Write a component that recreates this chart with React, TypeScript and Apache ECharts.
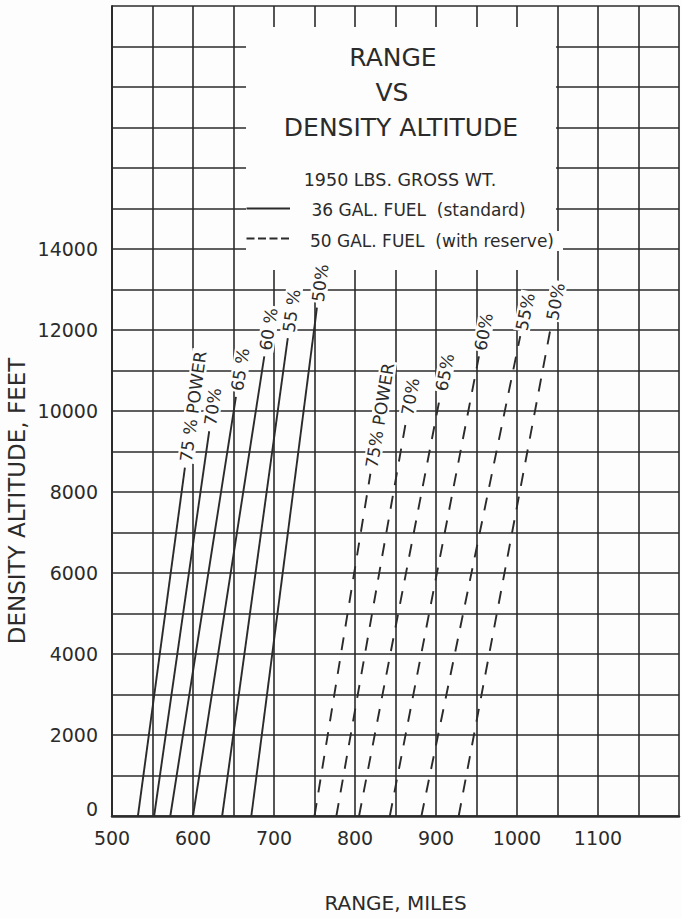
import React, { useEffect, useRef } from "react";
import * as echarts from "echarts";

// ---- data ----
const xTickLabels = [500, 600, 700, 800, 900, 1000, 1100];
const yTickLabels = [0, 2000, 4000, 6000, 8000, 10000, 12000, 14000];

// 36 gal. fuel (standard) - solid lines: range at sea level and at the top of each line
const powerLabelsStandard = ["75 % POWER", "70%", "65 %", "60 %", "55 %", "50%"];
const rangeAtSeaLevelStandard = [532, 552, 572, 600, 636, 672];
const rangeAtTopStandard = [590, 620, 653, 688, 717, 753];
const topAltitudeStandard = [8600, 9500, 10350, 11350, 11800, 12550];

// 50 gal. fuel (with reserve) - dashed lines
const powerLabelsReserve = ["75% POWER", "70%", "65%", "60%", "55%", "50%"];
const rangeAtSeaLevelReserve = [750, 777, 805, 843, 882, 928];
const rangeAtTopReserve = [819, 863, 905, 953, 1004, 1042];
const topAltitudeReserve = [8450, 9750, 10350, 11350, 11850, 12100];

const titleLines = ["RANGE", "VS", "DENSITY ALTITUDE"];
const weightNote = "1950 LBS. GROSS WT.";
const nameStandard = "36 GAL. FUEL  (standard)";
const nameReserve = "50 GAL. FUEL  (with reserve)";
const xAxisName = "RANGE, MILES";
const yAxisName = "DENSITY ALTITUDE, FEET";

const INK = "#2b2b2b";
const PAPER = "#fdfdfd";
const FONT = "DejaVu Sans";
const DASH = [13, 11];

export default function App() {
  const ref = useRef<HTMLDivElement>(null);

  useEffect(() => {
    const el = ref.current as HTMLDivElement;
    const chart = echarts.init(el, null, { renderer: "svg" });

    const makeSeries = (
      name: string,
      r0: number[],
      r1: number[],
      a1: number[],
      dashed: boolean
    ) =>
      r0.map((r, i) => ({
        type: "line",
        name,
        data: [
          [r, 0],
          [r1[i], a1[i]],
        ],
        symbol: "none",
        silent: true,
        z: 3,
        lineStyle: { color: INK, width: 1.9, type: dashed ? DASH : "solid", cap: "butt" },
      }));

    const option: any = {
      animation: false,
      backgroundColor: PAPER,
      grid: { left: 112, top: 6, width: 576, height: 811 },
      xAxis: {
        type: "value",
        min: 500,
        max: 1200,
        interval: 50,
        name: xAxisName,
        nameLocation: "middle",
        nameGap: 77,
        nameTextStyle: { fontFamily: FONT, fontSize: 20, color: INK },
        axisLine: { show: true, onZero: false, lineStyle: { color: INK, width: 2.5 } },
        axisTick: { show: false },
        axisLabel: {
          margin: 12,
          fontFamily: FONT,
          fontSize: 19,
          color: INK,
          formatter: (v: number) => (xTickLabels.includes(v) ? String(v) : ""),
        },
        splitLine: { show: true, lineStyle: { color: INK, width: 1.6 } },
      },
      yAxis: {
        type: "value",
        min: 0,
        max: 20000,
        interval: 1000,
        axisLine: { show: true, onZero: false, lineStyle: { color: INK, width: 2 } },
        axisTick: { show: false },
        axisLabel: {
          margin: 14,
          fontFamily: FONT,
          fontSize: 19,
          color: INK,
          formatter: (v: number) =>
            v === 0 ? "{z|0}" : yTickLabels.includes(v) ? String(v) : "",
          rich: {
            z: { padding: [0, 0, 14, 0], fontFamily: FONT, fontSize: 19, color: INK },
          },
        },
        splitLine: { show: true, lineStyle: { color: INK, width: 1.6 } },
      },
      series: [
        ...makeSeries(nameStandard, rangeAtSeaLevelStandard, rangeAtTopStandard, topAltitudeStandard, false),
        ...makeSeries(nameReserve, rangeAtSeaLevelReserve, rangeAtTopReserve, topAltitudeReserve, true),
      ],
    };
    chart.setOption(option);

    // power-setting labels, placed just beyond the top of each line, along its direction
    const lineLabels: any[] = [];
    const addLabels = (labels: string[], r0: number[], r1: number[], a1: number[]) => {
      labels.forEach((text, i) => {
        const p0 = chart.convertToPixel({ gridIndex: 0 }, [r0[i], 0]) as number[];
        const p1 = chart.convertToPixel({ gridIndex: 0 }, [r1[i], a1[i]]) as number[];
        const dx = p1[0] - p0[0];
        const dy = p1[1] - p0[1];
        const len = Math.hypot(dx, dy);
        const gap = 5;
        lineLabels.push({
          type: "text",
          x: p1[0] + (dx / len) * gap,
          y: p1[1] + (dy / len) * gap,
          rotation: Math.atan2(-dy, dx),
          z: 6,
          style: {
            text,
            align: "left",
            verticalAlign: "middle",
            fontFamily: FONT,
            fontSize: 17,
            fill: INK,
            backgroundColor: PAPER,
            padding: [0, 2, 0, 1],
          },
        });
      });
    };
    addLabels(powerLabelsStandard, rangeAtSeaLevelStandard, rangeAtTopStandard, topAltitudeStandard);
    addLabels(powerLabelsReserve, rangeAtSeaLevelReserve, rangeAtTopReserve, topAltitudeReserve);

    const titleX = [393, 392, 401];
    const titleY = [57.5, 92.5, 127.5];

    chart.setOption({
      graphic: [
        // white title box that interrupts the grid
        { type: "rect", z: 1, shape: { x: 246, y: 27, width: 310, height: 243 }, style: { fill: PAPER } },
        { type: "rect", z: 1, shape: { x: 540, y: 231, width: 23, height: 20 }, style: { fill: PAPER } },
        ...titleLines.map((t, i) => ({
          type: "text",
          z: 5,
          x: titleX[i],
          y: titleY[i],
          style: { text: t, align: "center", verticalAlign: "middle", fontFamily: FONT, fontSize: 25, fill: INK },
        })),
        {
          type: "text",
          z: 5,
          x: 400,
          y: 180,
          style: { text: weightNote, align: "center", verticalAlign: "middle", fontFamily: FONT, fontSize: 17.5, fill: INK },
        },
        // legend
        { type: "line", z: 5, shape: { x1: 246.5, y1: 208.5, x2: 290, y2: 208.5 }, style: { stroke: INK, lineWidth: 1.8 } },
        {
          type: "text",
          z: 5,
          x: 311.5,
          y: 210,
          style: { text: nameStandard, align: "left", verticalAlign: "middle", fontFamily: FONT, fontSize: 17, fill: INK },
        },
        {
          type: "line",
          z: 5,
          shape: { x1: 246.5, y1: 238.5, x2: 290, y2: 238.5 },
          style: { stroke: INK, lineWidth: 1.8, lineDash: [8, 3.5] },
        },
        {
          type: "text",
          z: 5,
          x: 310,
          y: 241,
          style: { text: nameReserve, align: "left", verticalAlign: "middle", fontFamily: FONT, fontSize: 17, fill: INK },
        },
        // y axis name
        {
          type: "text",
          z: 5,
          x: 17,
          y: 501,
          rotation: Math.PI / 2,
          style: { text: yAxisName, align: "center", verticalAlign: "middle", fontFamily: FONT, fontSize: 23, fill: INK },
        },
        ...lineLabels,
      ],
    });

    return () => chart.dispose();
  }, []);

  return (
    <div
      ref={ref}
      style={{ position: "absolute", left: 0, top: 0, width: 682, height: 918, overflow: "hidden" }}
    />
  );
}
